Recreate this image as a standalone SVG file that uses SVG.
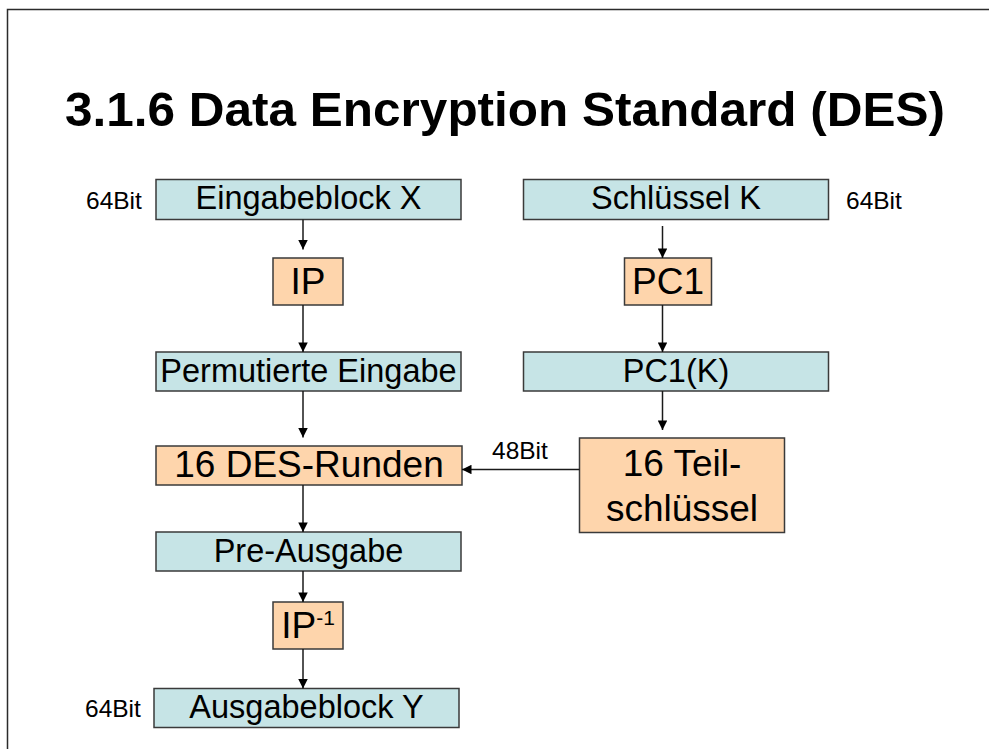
<svg xmlns="http://www.w3.org/2000/svg" width="989" height="749" viewBox="0 0 989 749">
  <style>
    text { font-family: "Liberation Sans", Arial, sans-serif; fill: #000; }
    .title { font-size: 49px; font-weight: bold; }
    .box { stroke: #3a3a3a; stroke-width: 1.5; }
    .data { fill: #c6e4e6; }
    .step { fill: #fed5ac; }
    .lbl { font-size: 32.5px; text-anchor: middle; }
    .lbl-big { font-size: 37px; text-anchor: middle; }
    .bits { font-size: 24.5px; }
    .wire { stroke: #1a1a1a; stroke-width: 1.5; fill: none; }
  </style>
  <defs>
    <marker id="arrow" viewBox="0 0 10 10" refX="10" refY="5" markerWidth="10" markerHeight="9.5" markerUnits="userSpaceOnUse" orient="auto">
      <path d="M0,0 L10,5 L0,10 Z" fill="#000"/>
    </marker>
  </defs>

  <rect width="989" height="749" fill="#fff"/>
  <!-- slide frame -->
  <path d="M7.5,749 V9.5 H989" fill="none" stroke="#2b2b2b" stroke-width="1.5"/>

  <text class="title" x="65" y="126" textLength="880" lengthAdjust="spacingAndGlyphs">3.1.6 Data Encryption Standard (DES)</text>

  <!-- data path -->
  <g id="eingabe">
    <rect class="box data" x="156" y="179.5" width="305" height="40"/>
    <text class="lbl" x="308.5" y="209">Eingabeblock X</text>
    <text class="bits" x="86" y="209">64Bit</text>
  </g>
  <g id="ip">
    <rect class="box step" x="273" y="258" width="70" height="47"/>
    <text class="lbl-big" x="308" y="294">IP</text>
  </g>
  <g id="permutiert">
    <rect class="box data" x="156" y="352" width="305" height="39"/>
    <text class="lbl" x="308.5" y="382">Permutierte Eingabe</text>
  </g>
  <g id="runden">
    <rect class="box step" x="156" y="446" width="306" height="39"/>
    <text class="lbl-big" x="309" y="477">16 DES-Runden</text>
  </g>
  <g id="pre-ausgabe">
    <rect class="box data" x="156" y="532" width="305" height="39"/>
    <text class="lbl" x="308.5" y="562">Pre-Ausgabe</text>
  </g>
  <g id="ip-inv">
    <rect class="box step" x="273" y="602" width="70" height="47"/>
    <text class="lbl-big" x="308" y="638">IP<tspan font-size="21" dy="-13">-1</tspan></text>
  </g>
  <g id="ausgabe">
    <rect class="box data" x="154" y="688.5" width="305" height="39"/>
    <text class="lbl" x="306.5" y="718">Ausgabeblock Y</text>
    <text class="bits" x="85" y="717">64Bit</text>
  </g>

  <!-- key schedule -->
  <g id="schluessel">
    <rect class="box data" x="523.5" y="179.5" width="305" height="40"/>
    <text class="lbl" x="676" y="209">Schlüssel K</text>
    <text class="bits" x="846" y="209">64Bit</text>
  </g>
  <g id="pc1">
    <rect class="box step" x="624.5" y="258" width="87" height="47"/>
    <text class="lbl-big" x="668" y="294">PC1</text>
  </g>
  <g id="pc1k">
    <rect class="box data" x="523.5" y="352" width="305" height="39"/>
    <text class="lbl" x="676" y="382">PC1(K)</text>
  </g>
  <g id="teilschluessel">
    <rect class="box step" x="579.5" y="438" width="205" height="94.5"/>
    <text class="lbl-big" x="682" y="476">16 Teil-</text>
    <text class="lbl-big" x="682" y="521">schlüssel</text>
  </g>

  <g id="connectors">
    <line class="wire" x1="303" y1="219.5" x2="303" y2="249.5" marker-end="url(#arrow)"/>
    <line class="wire" x1="303" y1="305" x2="303" y2="352" marker-end="url(#arrow)"/>
    <line class="wire" x1="303" y1="391" x2="303" y2="437.5" marker-end="url(#arrow)"/>
    <line class="wire" x1="303" y1="485" x2="303" y2="532" marker-end="url(#arrow)"/>
    <line class="wire" x1="303" y1="571" x2="303" y2="602" marker-end="url(#arrow)"/>
    <line class="wire" x1="303" y1="649" x2="303" y2="688.5" marker-end="url(#arrow)"/>
    <line class="wire" x1="662.5" y1="226" x2="662.5" y2="258" marker-end="url(#arrow)"/>
    <line class="wire" x1="662.5" y1="305" x2="662.5" y2="352" marker-end="url(#arrow)"/>
    <line class="wire" x1="662.5" y1="391" x2="662.5" y2="430" marker-end="url(#arrow)"/>
    <line class="wire" x1="579.5" y1="469.5" x2="462" y2="469.5" marker-end="url(#arrow)"/>
    <text class="bits" x="492" y="459">48Bit</text>
  </g>
</svg>
